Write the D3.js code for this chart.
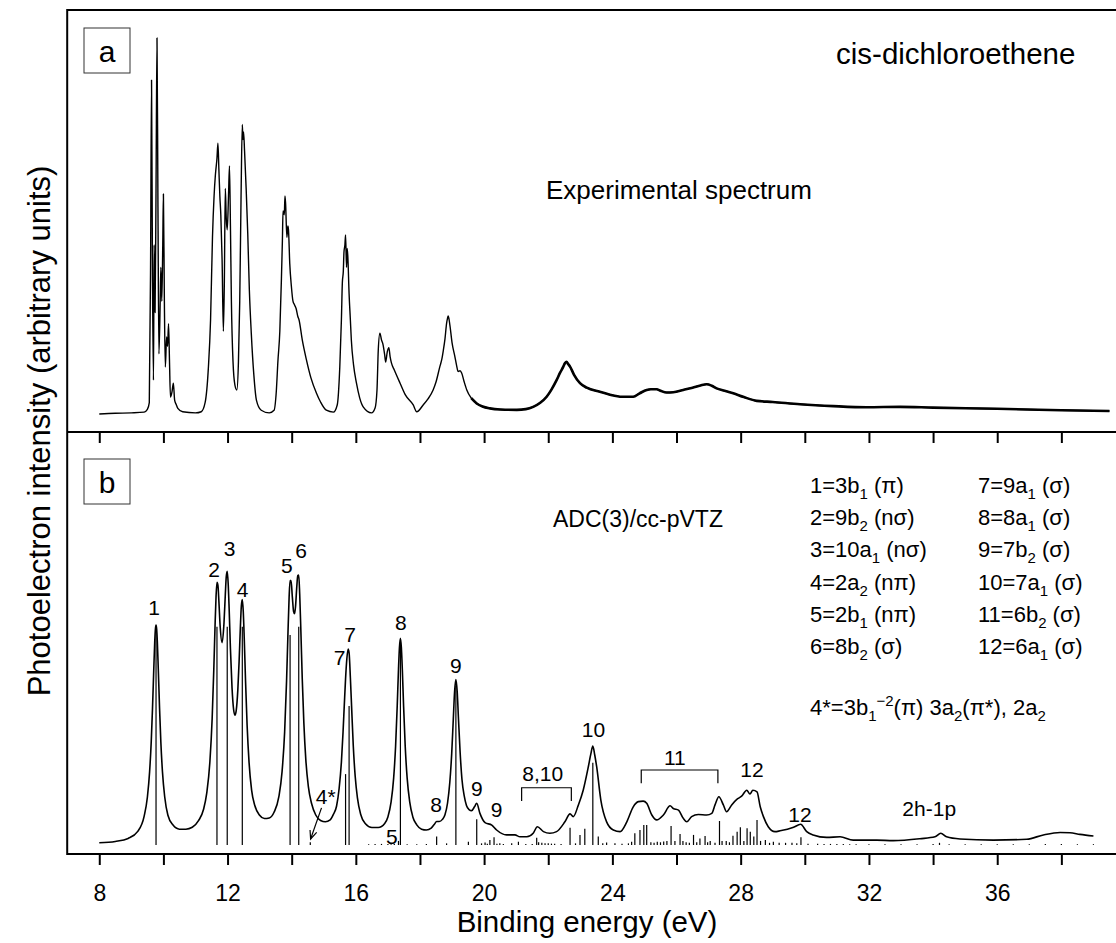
<!DOCTYPE html>
<html><head><meta charset="utf-8">
<script src="https://cdn.jsdelivr.net/npm/d3@7"></script>
<style>
body{margin:0;background:#fff}
svg{display:block}
text{font-family:"Liberation Sans",Arial,Helvetica,sans-serif;fill:#000}
</style>
</head><body>
<svg id="chart" width="1116" height="943"></svg>
<script>
// ---------- DATA ----------
// Experimental spectrum (binding energy eV, intensity arb. units)
const expSpectrum = [
[8.0,0],[8.5,0.2],[9.0,0.3],[9.4,0.5],[9.5,1.2],[9.56,3],[9.60,40],[9.63,88.8],[9.66,35],[9.69,9],[9.71,45],[9.74,27],[9.77,60],[9.80,100],[9.83,55],[9.86,16],[9.90,30],[9.92,39],[9.95,30],[9.98,45],[10.00,58.5],[10.03,30],[10.06,12.5],[10.10,20.5],[10.13,18],[10.16,24],[10.19,14],[10.22,4.5],[10.27,6],[10.31,8.2],[10.35,3.7],[10.4,2.5],[10.45,1.5],[10.6,0.6],[11.0,0.3],
[11.18,0.6],[11.3,3],[11.4,12],[11.47,25],[11.53,47],[11.58,58],[11.62,63.5],[11.67,68],[11.70,72],[11.73,65],[11.76,58],[11.79,53],[11.83,41],[11.87,22],[11.90,35],[11.93,60],[11.96,52],[11.99,49],[12.03,58],[12.06,66],[12.09,50],[12.12,30],[12.17,14],[12.23,7.7],[12.29,6.4],[12.34,14],[12.38,30],[12.42,57],[12.46,77],[12.48,73],[12.50,75],[12.53,70],[12.58,60],[12.63,48],[12.68,33],[12.74,21.5],[12.82,10.4],[12.90,3.7],[13.05,1],[13.3,0.3],
[13.45,1],[13.52,6],[13.57,14],[13.63,22],[13.68,36],[13.71,46],[13.73,54],[13.77,53],[13.79,58],[13.81,56],[13.85,47],[13.88,50],[13.90,49],[13.94,40],[13.99,34],[14.04,30],[14.09,29],[14.14,28],[14.19,26],[14.23,25],[14.33,19.7],[14.46,14.4],[14.6,9.6],[14.77,5.6],[14.9,3.2],[15.08,1],[15.3,0.5],
[15.42,2.4],[15.50,12.5],[15.55,25],[15.58,35],[15.61,38],[15.63,43],[15.66,45],[15.68,47.6],[15.71,39],[15.73,44],[15.75,42],[15.79,32],[15.83,25],[15.86,19.7],[15.93,13],[16.02,8.2],[16.12,4.3],[16.23,1.9],[16.49,0.3],
[16.6,1.6],[16.66,6.4],[16.70,17],[16.75,21.5],[16.80,19.7],[16.85,18.4],[16.90,15.7],[16.93,13.8],[16.98,16.5],[17.03,17.6],[17.07,15.2],[17.11,13.6],[17.2,11.7],[17.38,8.2],[17.55,5],[17.79,2.4],[17.9,0.6],
[18.1,2.4],[18.25,4],[18.41,6.4],[18.5,8.5],[18.62,12.6],[18.68,14.5],[18.73,17],[18.78,20],[18.83,24.1],[18.86,25.5],[18.88,26.1],[18.91,25],[18.94,23.2],[19.0,19],[19.09,15.2],[19.14,13],[19.19,11.3],[19.25,11.5],[19.30,10.9],[19.38,8.5],[19.46,6.4],[19.6,4.2],[19.77,2.8],[19.95,2],[20.18,1.5],[20.5,1.2],[21.02,1.1],[21.3,1.3],[21.53,1.9],[21.75,3],[21.95,4.6],[22.1,6.5],[22.26,9],[22.37,11],[22.47,12.6],[22.52,13.5],[22.57,13.9],[22.62,13.3],[22.68,12.6],[22.8,10.5],[22.99,8.2],[23.2,7],[23.61,5.9],[23.9,5.2],[24.3,4.6],[24.65,4.6],[24.85,5.5],[25.07,6.4],[25.2,6.6],[25.38,6.6],[25.5,6.2],[25.69,5.7],[25.9,5.8],[26.21,6.4],[26.5,7],[26.75,7.6],[26.94,7.9],[27.1,7.5],[27.25,6.8],[27.5,6.2],[27.77,5.5],[28.1,4.5],[28.50,3.5],[29.0,3.2],[29.85,2.6],[30.89,2.1],[31.93,1.8],[32.97,1.9],[34,1.7],[36,1.4],[38,1.0],[39.5,0.8]
];

// ADC(3)/cc-pVTZ convoluted envelope
const theoryEnvelope = [
[8.0,0.8],[8.5,1.3],[8.9,2.4],[9.2,5.0],[9.4,10.6],[9.5,17.5],[9.57,26.9],[9.62,37.8],[9.66,50.1],[9.70,64.6],[9.73,74.7],[9.75,79.1],[9.77,80.7],[9.79,79.1],[9.81,74.7],[9.84,64.6],[9.88,50.1],[9.92,37.8],[9.97,26.9],[10.04,17.7],[10.14,10.9],[10.3,7.3],[10.5,5.8],[10.7,5.8],[10.9,6.5],
[11.1,9.0],[11.25,13.0],[11.35,18.9],[11.45,30.6],[11.52,46.4],[11.57,63.9],[11.61,80.3],[11.64,90.7],[11.67,96.3],[11.70,95.2],[11.73,89.4],[11.77,80.1],[11.83,74.2],[11.89,81.6],[11.93,91.8],[11.96,98.4],[11.99,100.4],[12.02,95.8],[12.05,86.6],[12.09,72],[12.14,57.6],[12.19,49.6],[12.23,47.6],[12.27,49.3],[12.32,56.8],[12.36,67.2],[12.40,79.9],[12.43,87.6],[12.46,90],[12.49,85.6],[12.52,76],[12.56,60.5],[12.61,43.9],[12.67,30.4],[12.75,20.1],[12.85,14.5],
[13.0,10.9],[13.15,9.7],[13.3,9.9],[13.45,12.0],[13.6,17.7],[13.7,26.9],[13.78,41.4],[13.84,60.1],[13.88,76.1],[13.92,90.9],[13.95,97],[13.98,97],[14.02,91],[14.06,85.6],[14.09,84.8],[14.12,87.5],[14.16,94.9],[14.19,98.8],[14.22,99],[14.25,92],[14.29,77],[14.33,60.8],[14.38,44.6],[14.44,31.4],[14.52,21.4],[14.62,15.2],[14.75,11],[14.9,9.0],[15.05,8.5],[15.2,9.2],
[15.3,11.2],[15.4,14.3],[15.48,20.8],[15.55,30.4],[15.60,41.1],[15.64,51.2],[15.68,61],[15.72,68.3],[15.76,71.9],[15.79,70.5],[15.83,61.3],[15.87,50.2],[15.92,36.5],[15.98,25.2],[16.05,17.3],[16.15,11.3],[16.3,7.8],[16.5,6.4],[16.7,6.4],[16.9,7.9],
[17.0,10.3],[17.1,15.8],[17.18,24.6],[17.24,36.2],[17.29,50.8],[17.33,64.3],[17.36,72.4],[17.39,75.8],[17.42,72.4],[17.45,64.3],[17.49,50.8],[17.54,36.2],[17.6,24.6],[17.68,15.8],[17.78,10.2],[17.9,7.4],[18.05,5.8],[18.2,5.5],[18.35,6.2],[18.45,7.6],[18.52,8.6],[18.6,8.6],[18.7,9.4],[18.78,11.1],
[18.86,15.4],[18.93,22.9],[18.99,33.6],[19.04,46.3],[19.08,56.3],[19.12,60.7],[19.16,56.4],[19.20,46.5],[19.25,34.5],[19.31,24],[19.38,18],[19.45,14.5],[19.53,13],[19.61,12.6],[19.70,14],[19.77,15.3],[19.87,11.6],
[20.03,8.2],[20.24,7.3],[20.39,5.5],[20.7,3.7],[20.96,3.7],[21.12,3.0],[21.33,3.0],[21.53,4.3],[21.66,6.7],[21.85,4.9],[22.05,4.3],[22.26,4.9],[22.52,8.5],[22.68,11.4],[22.78,10.4],[22.94,14.7],[23.09,20.1],[23.25,28.7],[23.33,33.5],[23.39,36.3],[23.45,33],[23.51,28.7],[23.64,16.5],[23.82,8.5],
[24.03,5.5],[24.24,4.9],[24.45,8.5],[24.65,14],[24.81,15.9],[24.96,16.1],[25.07,15.3],[25.23,11],[25.38,9.2],[25.59,11],[25.8,14.4],[25.9,13.4],[26.06,12.8],[26.21,9.8],[26.32,8.5],[26.47,10.4],[26.68,11.2],[26.94,11],[27.1,11.6],[27.2,14.7],[27.32,17.7],[27.46,14.7],[27.56,12.2],[27.72,14.7],[27.88,16.7],[28.03,17.9],[28.19,20.1],[28.29,18.7],[28.38,20.1],[28.51,19.5],[28.61,14],[28.71,10.4],[28.86,6.7],
[29.07,4.9],[29.23,5.2],[29.65,6.5],[29.87,7.6],[30.06,4.9],[30.26,3.7],[30.68,2.8],[31.1,3.0],[31.51,1.8],[32.24,1.8],[32.76,1.6],[33.59,2.3],[34.06,3.0],[34.24,4.3],[34.42,3.0],[34.84,2.2],[35.88,1.8],[36.92,2.1],[37.44,3.7],[37.96,4.6],[38.27,4.5],[38.58,3.9],[39.0,3.3]
];

// ADC(3) pole strengths (sticks)
const theorySticks = [
[9.77,80],[11.67,80],[11.99,80],[12.46,80],[13.95,77],[14.22,80],[14.58,1.0],[15.68,26],[15.79,51],
[16.4,0.3],[16.6,0.4],[16.8,0.4],[17.0,0.4],[17.1,0.3],[17.2,0.5],[17.33,1.5],[17.39,74],[17.6,0.3],[17.9,0.3],[18.2,0.4],[18.52,3.1],[18.83,0.6],[19.12,58.5],
[19.51,1.2],[19.77,9.4],[19.92,0.6],[20.03,0.9],[20.1,0.5],[20.18,1.8],[20.31,2.8],[20.4,0.5],[20.49,0.6],[20.6,0.4],[20.86,0.6],[21.07,1.2],[21.3,0.4],[21.5,0.4],
[21.64,2.7],[21.7,1],[21.8,0.8],[21.9,0.6],[22.0,0.6],[22.1,0.5],[22.2,0.5],[22.4,0.4],[22.68,6.3],[22.85,0.6],[22.99,3.7],[23.14,6],
[23.39,30.2],[23.56,3.1],[23.7,0.6],[23.82,0.9],[24.08,0.6],[24.3,0.5],[24.5,0.6],[24.6,1.2],[24.70,4.3],[24.86,5.5],[24.98,7.3],[25.07,7.3],
[25.2,1],[25.3,0.8],[25.4,1.2],[25.5,1],[25.6,1.3],[25.7,1.5],[25.83,7],[25.95,1.5],[26.11,4],[26.2,1.5],[26.3,1],[26.4,0.8],
[26.53,3.7],[26.63,1],[26.73,2.4],[26.89,3.3],[26.97,1],[27.05,1.5],[27.2,0.8],[27.34,8.8],[27.42,1.5],[27.55,1.5],[27.65,1],[27.76,3.4],[27.89,4.9],
[27.99,6.5],[28.1,1.5],[28.2,6.1],[28.3,4.9],[28.41,3.1],[28.51,9.2],[28.62,1.5],[28.77,1.8],[28.9,0.8],[29.02,1.2],[29.2,0.8],
[29.4,0.8],[29.6,0.8],[29.75,0.6],[29.88,2.8],[30.1,0.5],[30.4,0.5],[30.6,0.4],[30.8,0.4],[31.0,0.4],[31.2,0.4],[31.4,0.3],[31.6,0.3],[32.0,0.3],[32.5,0.3],
[33.0,0.3],[33.5,0.3],[34.0,0.4],[34.2,0.8],[34.5,0.3],[35,0.3],[35.5,0.3],[36,0.3],[36.5,0.3],[37,0.3],[37.5,0.4],[38,0.4],[38.5,0.3],[39,0.3]
];

const xTickValues = [8,10,12,14,16,18,20,22,24,26,28,30,32,34,36,38];
const xTickLabels = [8,12,16,20,24,28,32,36];

// Peak annotations: [text, energy, intensity]
const peakLabels = [
["1",9.71,86.9],["2",11.58,100.8],["3",12.06,108.8],["4",12.47,93.8],["5",13.85,102.3],["6",14.29,107.9],
["7",15.82,77],["7",15.49,68.8],["8",17.40,81.5],["9",19.12,65.6],["8",18.5,14.7],["9",19.77,20.8],["9",20.39,12.8],
["8,10",21.83,26.3],["10",23.41,42.2],["11",25.95,32.2],["12",28.35,27.5],["12",29.85,11],["2h-1p",33.88,13.5],["5",17.12,3.0],["4*",15.06,17.7]
];
// brackets: [from, to, top, leg]
const brackets = [[21.17,22.72,21,16.1],[24.9,27.29,27.5,22.6]];
// arrow for 4*: [fromE, fromI, toE, toI]
const arrow4 = [14.93,13.6,14.59,2.2];

// Orbital assignments: [main, subscript, rest]
const legendCol1 = [["1=3b","1"," (\u03C0)"],["2=9b","2"," (n\u03C3)"],["3=10a","1"," (n\u03C3)"],["4=2a","2"," (n\u03C0)"],["5=2b","1"," (n\u03C0)"],["6=8b","2"," (\u03C3)"]];
const legendCol2 = [["7=9a","1"," (\u03C3)"],["8=8a","1"," (\u03C3)"],["9=7b","2"," (\u03C3)"],["10=7a","1"," (\u03C3)"],["11=6b","2"," (\u03C3)"],["12=6a","1"," (\u03C3)"]];

// ---------- DRAWING ----------
const svg = d3.select("#chart");
const x = d3.scaleLinear().domain([7,40]).range([67.2,1125.5]);
const yTop = d3.scaleLinear().domain([0,100]).range([414,38]);
const yBot = d3.scaleLinear().domain([0,100]).range([845,572.3]);
const frameTop = 10, frameMid = 432, frameBot = 854;

// sticks
svg.append("g").selectAll("line").data(theorySticks).join("line")
  .attr("x1",d=>x(d[0])).attr("x2",d=>x(d[0]))
  .attr("y1",yBot(0)).attr("y2",d=>yBot(d[1]))
  .attr("stroke","#000").attr("stroke-width",1.2);

// envelope
svg.append("path").datum(theoryEnvelope)
  .attr("d",d3.line().x(d=>x(d[0])).y(d=>yBot(d[1])).curve(d3.curveMonotoneX))
  .attr("fill","none").attr("stroke","#000").attr("stroke-width",1.6);

// experimental
const expLine = d3.line().x(d=>x(d[0])).y(d=>yTop(d[1])).curve(d3.curveMonotoneX);
svg.append("path").datum(expSpectrum)
  .attr("d",expLine)
  .attr("fill","none").attr("stroke","#000").attr("stroke-width",1.4).attr("stroke-linejoin","round");
svg.append("path").datum(expSpectrum.filter(d=>d[0]>=19.6))
  .attr("d",expLine)
  .attr("fill","none").attr("stroke","#000").attr("stroke-width",2.6);

// frame
svg.append("rect").attr("x",x(7)).attr("y",frameTop).attr("width",x(40)-x(7)).attr("height",frameBot-frameTop)
  .attr("fill","none").attr("stroke","#000").attr("stroke-width",2);
svg.append("line").attr("x1",x(7)).attr("x2",x(40)).attr("y1",frameMid).attr("y2",frameMid)
  .attr("stroke","#000").attr("stroke-width",2);

// axes
const axBottom = d3.axisBottom(x).tickValues(xTickValues).tickSize(11).tickPadding(20)
  .tickFormat(d=>xTickLabels.includes(d)?d:"");
const gB = svg.append("g").attr("transform",`translate(0,${frameBot})`).call(axBottom);
gB.select(".domain").remove();
gB.selectAll("line").attr("stroke","#000").attr("stroke-width",2);
gB.selectAll("text").attr("font-size",23).attr("font-family","Liberation Sans, Arial, sans-serif").attr("fill","#000");

const axMid = d3.axisBottom(x).tickValues(xTickValues).tickSize(11).tickFormat("");
const gM = svg.append("g").attr("transform",`translate(0,${frameMid})`).call(axMid);
gM.select(".domain").remove();
gM.selectAll("line").attr("stroke","#000").attr("stroke-width",2);

// axis titles
svg.append("text").attr("x",587).attr("y",932).attr("text-anchor","middle").attr("font-size",29.5).text("Binding energy (eV)");
svg.append("text").attr("transform","translate(50,431) rotate(-90)").attr("text-anchor","middle").attr("font-size",31)
  .text("Photoelectron intensity (arbitrary units)");

// panel labels
function panelLabel(px,py,t){
  svg.append("rect").attr("x",px).attr("y",py).attr("width",46).attr("height",45).attr("fill","#fff").attr("stroke","#333").attr("stroke-width",1);
  svg.append("text").attr("x",px+23).attr("y",py+23).attr("dy","0.35em").attr("text-anchor","middle").attr("font-size",30).text(t);
}
panelLabel(84,28,"a");
panelLabel(84,459,"b");

svg.append("text").attr("x",836).attr("y",64).attr("font-size",29.5).text("cis-dichloroethene");
svg.append("text").attr("x",546).attr("y",199).attr("font-size",26).text("Experimental spectrum");
svg.append("text").attr("x",553).attr("y",527).attr("font-size",23).text("ADC(3)/cc-pVTZ");

// peak labels
svg.append("g").selectAll("text").data(peakLabels).join("text")
  .attr("x",d=>x(d[1])).attr("y",d=>yBot(d[2])).attr("dy","0.35em").attr("text-anchor","middle")
  .attr("font-size",21).text(d=>d[0]);

// brackets
svg.append("g").selectAll("path").data(brackets).join("path")
  .attr("d",d=>`M${x(d[0])},${yBot(d[3])}V${yBot(d[2])}H${x(d[1])}V${yBot(d[3])}`)
  .attr("fill","none").attr("stroke","#000").attr("stroke-width",1.2);

// arrow
{
  const x1=x(arrow4[0]),y1=yBot(arrow4[1]),x2=x(arrow4[2]),y2=yBot(arrow4[3]);
  svg.append("line").attr("x1",x1).attr("y1",y1).attr("x2",x2).attr("y2",y2).attr("stroke","#000").attr("stroke-width",1.2);
  const ang=Math.atan2(y1-y2,x1-x2), L=9, a=0.4;
  svg.append("path").attr("d",`M${x2+L*Math.cos(ang-a)},${y2+L*Math.sin(ang-a)}L${x2},${y2}L${x2+L*Math.cos(ang+a)},${y2+L*Math.sin(ang+a)}`)
    .attr("fill","none").attr("stroke","#000").attr("stroke-width",1.2);
}

// legend
function legendCol(items,lx,by0,step){
  items.forEach((it,i)=>{
    const t = svg.append("text").attr("x",lx).attr("y",by0+i*step).attr("font-size",22);
    t.append("tspan").text(it[0]);
    t.append("tspan").attr("font-size",15).attr("dy",6).text(it[1]);
    t.append("tspan").attr("dy",-6).text(it[2]);
  });
}
legendCol(legendCol1,810,493,32.2);
legendCol(legendCol2,978,493,32.2);
{
  const t = svg.append("text").attr("x",810).attr("y",715).attr("font-size",22);
  t.append("tspan").text("4*=3b");
  t.append("tspan").attr("font-size",15).attr("dy",6).text("1");
  t.append("tspan").attr("font-size",15).attr("dy",-15).text("\u22122");
  t.append("tspan").attr("dy",9).text("(\u03C0) 3a");
  t.append("tspan").attr("font-size",15).attr("dy",6).text("2");
  t.append("tspan").attr("dy",-6).text("(\u03C0*), 2a");
  t.append("tspan").attr("font-size",15).attr("dy",6).text("2");
}
</script>
</body></html>
